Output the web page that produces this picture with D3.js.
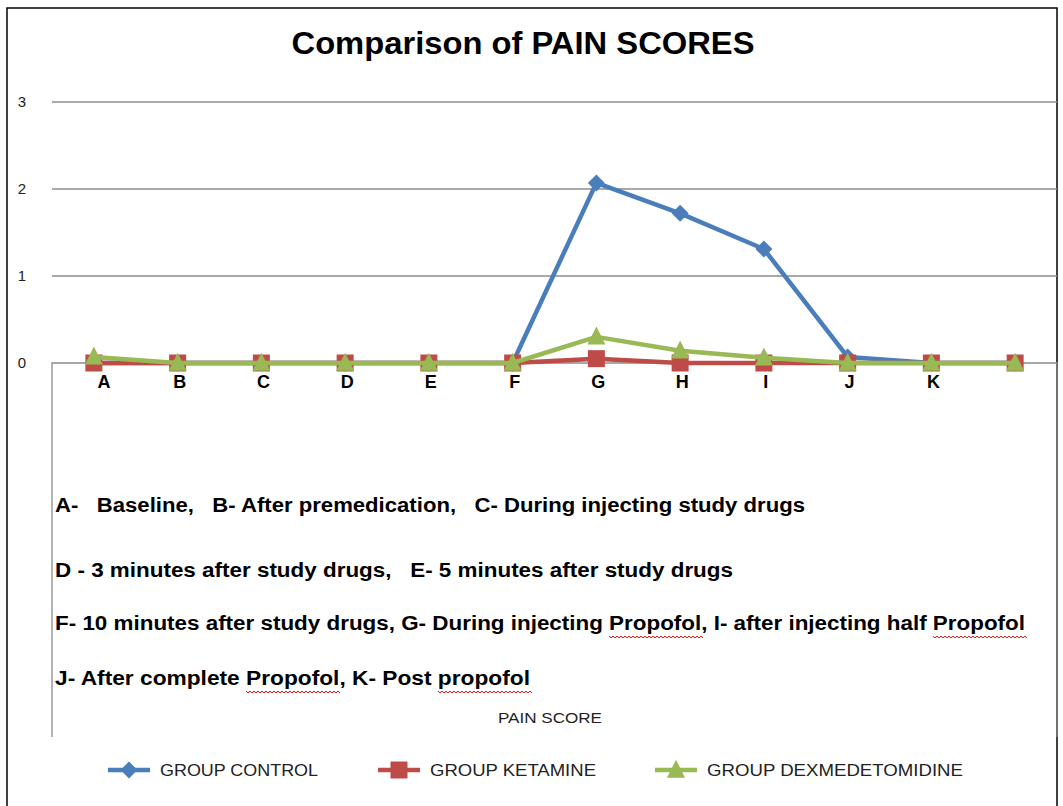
<!DOCTYPE html>
<html>
<head>
<meta charset="utf-8">
<script src="https://cdnjs.cloudflare.com/ajax/libs/d3/7.8.5/d3.min.js"></script>
<style>
  body { margin: 0; background: #fff; }
  text { font-family: "Liberation Sans", "DejaVu Sans", sans-serif; white-space: pre; }
</style>
</head>
<body>
<script>
var width = 1063;
var height = 806;

// data
var categories = ["A", "B", "C", "D", "E", "F", "G", "H", "I", "J", "K", ""];
var control = [0, 0, 0, 0, 0, 0, 2.07, 1.72, 1.31, 0.07, 0, 0];
var ketamine = [0, 0, 0, 0, 0, 0, 0.05, 0, 0, 0, 0, 0];
var dexmed = [0.07, 0, 0, 0, 0, 0, 0.3, 0.14, 0.06, 0, 0, 0];
var yTicks = [0, 1, 2, 3];
var seriesNames = ["GROUP CONTROL", "GROUP KETAMINE", "GROUP DEXMEDETOMIDINE"];
var notes = [
    "A-   Baseline,   B- After premedication,   C- During injecting study drugs",
    "D - 3 minutes after study drugs,   E- 5 minutes after study drugs",
    "F- 10 minutes after study drugs, G- During injecting Propofol, I- after injecting half Propofol",
    "J- After complete Propofol, K- Post propofol"
];

var series = [
    { name: seriesNames[0], values: control, color: "#4a7ebb", marker: "diamond" },
    { name: seriesNames[1], values: ketamine, color: "#be4b48", marker: "square" },
    { name: seriesNames[2], values: dexmed, color: "#98b954", marker: "triangle" }
];

var svg = d3.select("body")
    .append("svg")
    .attr("width", width)
    .attr("height", height);

// outer frame
svg.append("rect")
    .attr("x", 7).attr("y", 8)
    .attr("width", 1050).attr("height", 820)
    .attr("fill", "none")
    .attr("stroke", "#000")
    .attr("stroke-width", 1.5);

var x = d3.scalePoint()
    .domain(d3.range(categories.length))
    .range([52, 1057])
    .padding(0.5);

var y = d3.scaleLinear()
    .domain([0, 3])
    .range([363, 102]);

// title
svg.append("text")
    .attr("x", 523).attr("y", 54)
    .attr("text-anchor", "middle")
    .style("font-size", "32px")
    .style("font-weight", "bold")
    .attr("textLength", 463)
    .attr("lengthAdjust", "spacingAndGlyphs")
    .text("Comparison of PAIN SCORES");

// gridlines
svg.append("g")
    .selectAll("line")
    .data(yTicks.filter(function(d) { return d > 0; }))
    .enter()
    .append("line")
    .attr("x1", 52).attr("x2", 1057)
    .attr("y1", function(d) { return y(d); })
    .attr("y2", function(d) { return y(d); })
    .attr("stroke", "#8c8c8c")
    .attr("stroke-width", 1.3);

// category box
svg.append("path")
    .attr("d", "M52,737V" + y(0) + "H1057V737")
    .attr("fill", "none")
    .attr("stroke", "#8c8c8c")
    .attr("stroke-width", 1.3);

// y labels
svg.append("g")
    .selectAll("text")
    .data(yTicks)
    .enter()
    .append("text")
    .attr("x", 22)
    .attr("y", function(d) { return y(d) + 5; })
    .attr("text-anchor", "middle")
    .style("font-size", "15px")
    .attr("fill", "#222")
    .text(function(d) { return d; });

// x labels
svg.append("g")
    .selectAll("text")
    .data(categories)
    .enter()
    .append("text")
    .attr("x", function(d, i) { return x(i) + (i === 0 ? 10 : 2); })
    .attr("y", 388)
    .attr("text-anchor", "middle")
    .style("font-size", "18px")
    .style("font-weight", "bold")
    .text(function(d) { return d; });

function markerPath(type, s) {
    if (type === "diamond") return "M0," + (-s) + "L" + s + ",0L0," + s + "L" + (-s) + ",0Z";
    if (type === "square") return "M" + (-s) + "," + (-s) + "h" + (2 * s) + "v" + (2 * s) + "h" + (-2 * s) + "Z";
    return "M0," + (-s * 1.15) + "L" + s + "," + (s * 0.85) + "L" + (-s) + "," + (s * 0.85) + "Z";
}
var markerSize = { diamond: 8.5, square: 8.5, triangle: 9 };

var line = d3.line()
    .x(function(d, i) { return x(i); })
    .y(function(d) { return y(d); });

series.forEach(function(s) {
    var g = svg.append("g");
    g.append("path")
        .datum(s.values)
        .attr("d", line)
        .attr("fill", "none")
        .attr("stroke", s.color)
        .attr("stroke-width", 4.5)
        .attr("stroke-linejoin", "round");
    g.selectAll(".pt")
        .data(s.values)
        .enter()
        .append("path")
        .attr("transform", function(d, i) { return "translate(" + x(i) + "," + y(d) + ")"; })
        .attr("d", markerPath(s.marker, markerSize[s.marker]))
        .attr("fill", s.color);
});

// notes
var noteY = [512, 577, 630, 685];
var noteW = [750, 678, 970, 475];
notes.forEach(function(t, i) {
    var txt = svg.append("text")
        .attr("x", 55).attr("y", noteY[i])
        .attr("xml:space", "preserve")
        .style("font-size", "20px")
        .style("font-weight", "bold")
        .attr("textLength", noteW[i])
        .attr("lengthAdjust", "spacingAndGlyphs");
    // split around spell-check words
    var parts = t.split(/(Propofol|propofol)/);
    parts.forEach(function(p) {
        if (p === "") return;
        txt.append("tspan")
            .attr("class", /ropofol/.test(p) ? "spell" : null)
            .text(p);
    });
});

// red wavy underline for spell-check words
svg.selectAll("tspan.spell").each(function() {
    var n = this.getNumberOfChars();
    var s = this.getStartPositionOfChar(0);
    var e = this.getEndPositionOfChar(n - 1);
    var yy = s.y + 6;
    var d = "M" + s.x + "," + yy;
    for (var xx = s.x, k = 0; xx < e.x; xx += 2, k++) {
        d += "L" + (xx + 2) + "," + (yy + (k % 2 ? 0 : 2));
    }
    svg.append("path")
        .attr("d", d)
        .attr("fill", "none")
        .attr("stroke", "#e00")
        .attr("stroke-width", 1);
});

// axis title
svg.append("text")
    .attr("x", 550).attr("y", 723)
    .attr("text-anchor", "middle")
    .style("font-size", "15px")
    .attr("fill", "#222")
    .attr("textLength", 104)
    .attr("lengthAdjust", "spacingAndGlyphs")
    .text("PAIN SCORE");

// legend
var legendX = [108, 378, 655];
var legendW = [158, 166, 256];
var legend = svg.append("g")
    .selectAll("g")
    .data(series)
    .enter()
    .append("g")
    .attr("transform", function(d, i) { return "translate(" + legendX[i] + ",770)"; });

legend.append("line")
    .attr("x1", 0).attr("x2", 42)
    .attr("stroke", function(d) { return d.color; })
    .attr("stroke-width", 4.5);
legend.append("path")
    .attr("transform", "translate(21,0)")
    .attr("d", function(d) { return markerPath(d.marker, markerSize[d.marker]); })
    .attr("fill", function(d) { return d.color; });
legend.append("text")
    .attr("x", 52).attr("y", 6)
    .style("font-size", "17px")
    .attr("fill", "#222")
    .attr("textLength", function(d, i) { return legendW[i]; })
    .attr("lengthAdjust", "spacingAndGlyphs")
    .text(function(d) { return d.name; });
</script>
</body>
</html>
